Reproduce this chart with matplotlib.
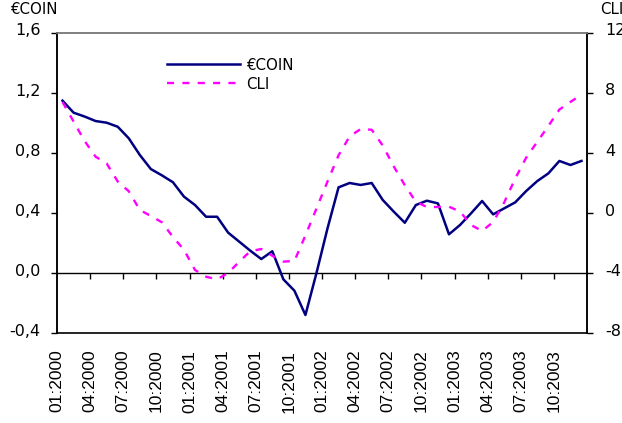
import matplotlib
matplotlib.use("Agg")
import matplotlib.pyplot as plt
from matplotlib.transforms import ScaledTranslation

# monthly data, 01:2000 .. 12:2003
ecoin = [1.149, 1.069, 1.043, 1.013, 1.002, 0.975, 0.898, 0.787, 0.693, 0.651,
         0.605, 0.509, 0.453, 0.375, 0.375, 0.269, 0.209, 0.149, 0.093, 0.145,
         -0.042, -0.118, -0.280, 0.000, 0.298, 0.571, 0.600, 0.587, 0.600, 0.487,
         0.409, 0.335, 0.453, 0.482, 0.464, 0.258, 0.320, 0.398, 0.480, 0.391,
         0.431, 0.471, 0.547, 0.613, 0.664, 0.747, 0.720, 0.747]
cli = [7.4, 6.1, 4.8, 3.75, 3.3, 2.1, 1.45, 0.2, -0.2, -0.62,
       -1.6, -2.45, -3.8, -4.25, -4.42, -4.0, -3.25, -2.55, -2.4, -2.85,
       -3.24, -3.2, -1.5, 0.3, 2.1, 3.85, 5.1, 5.6, 5.55, 4.5,
       3.1, 1.85, 0.75, 0.4, 0.4, 0.42, 0.1, -0.8, -1.2, -0.6,
       0.7, 2.3, 3.7, 4.75, 5.8, 6.9, 7.4, 7.9]
month_labels = ["01:2000", "04:2000", "07:2000", "10:2000",
                "01:2001", "04:2001", "07:2001", "10:2001",
                "01:2002", "04:2002", "07:2002", "10:2002",
                "01:2003", "04:2003", "07:2003", "10:2003"]
left_ticks = [-0.4, 0.0, 0.4, 0.8, 1.2, 1.6]
left_labels = ["-0,4", "0,0", "0,4", "0,8", "1,2", "1,6"]
right_ticks = [-8, -4, 0, 4, 8, 12]
right_labels = ["-8", "-4", "0", "4", "8", "12"]

plt.rcParams["font.family"] = ["DejaVu Sans"]

NAVY = "#000080"
MAGENTA = "#FF00FF"

x = [i + 0.5 for i in range(len(ecoin))]
label_pos = [3 * k for k in range(len(month_labels))]

fig = plt.figure(figsize=(6.22, 4.23), dpi=100)
ax = fig.add_axes([57 / 622, 90 / 423, 530 / 622, 300 / 423])
ax2 = ax.twinx()

l1, = ax.plot(x, ecoin, color=NAVY, lw=1.8, label="€COIN", zorder=3)
l2, = ax2.plot(x, cli, color=MAGENTA, lw=1.7, ls=(0, (3, 3.5)), label="CLI", zorder=3)

ax.set_xlim(0, len(ecoin))
ax.set_ylim(-0.4, 1.6)
ax2.set_ylim(-8, 12)

# left axis
ax.set_yticks(left_ticks)
ax.set_yticklabels(left_labels)
ax.tick_params(axis="y", direction="out", length=4, width=1, pad=8, labelsize=11.5)

# right axis
ax2.set_yticks(right_ticks)
ax2.set_yticklabels(right_labels)
ax2.tick_params(axis="y", direction="out", length=4, width=1, pad=9, labelsize=11.5)

# x axis drawn on the zero line, ticks only
ax.spines["bottom"].set_position(("data", 0))
ax.set_xticks(label_pos[1:])
ax.tick_params(axis="x", direction="out", length=4, width=1, labelbottom=False)

# month labels at the bottom of the frame
sec = ax.secondary_xaxis("bottom")
sec.set_xticks(label_pos)
sec.set_xticklabels(month_labels, rotation=90, fontfamily="Liberation Sans", fontsize=12.5)
sec.tick_params(axis="x", length=0, pad=12)
sec.spines["bottom"].set_linewidth(1.2)

for a in (ax, ax2):
    a.spines["top"].set_color("#808080")
    a.spines["top"].set_linewidth(1.2)
    a.spines["left"].set_linewidth(1.1)
    a.spines["right"].set_linewidth(1.1)
ax2.spines["bottom"].set_visible(False)
ax.spines["bottom"].set_linewidth(1.0)

# y tick labels sit a little above their ticks in the original
lift = ScaledTranslation(0, 3.5 / 100, fig.dpi_scale_trans)
for lab in ax.get_yticklabels() + ax2.get_yticklabels():
    lab.set_transform(lab.get_transform() + lift)

ax2.legend([l1, l2], ["€COIN", "CLI"], loc="upper left", bbox_to_anchor=(0.2075, 0.918),
           frameon=False, borderaxespad=0, borderpad=0, handlelength=4.9,
           handletextpad=0.35, labelspacing=0.27, fontsize=10.8)

fig.text(10 / 622, 1 - 9 / 423, "€COIN", ha="left", va="center", fontsize=10.8)
fig.text(600 / 622, 1 - 9 / 423, "CLI", ha="left", va="center", fontsize=10.8)

fig.savefig("out.png", dpi=100)
